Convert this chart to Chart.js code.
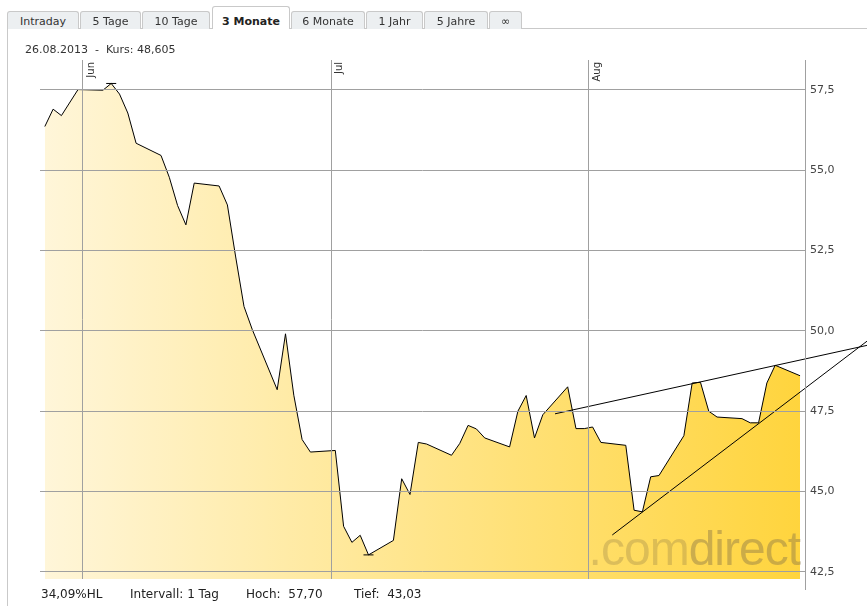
<!DOCTYPE html>
<html>
<head>
<meta charset="utf-8">
<script src="https://cdn.jsdelivr.net/npm/chart.js@4.4.0/dist/chart.umd.min.js"></script>
<style>
    html, body { margin: 0; padding: 0; background: #fff; }
    #wrap { position: relative; width: 867px; height: 606px; overflow: hidden; font-family: "DejaVu Sans", Verdana, sans-serif; color: #333; }
    #chart { position: absolute; left: 0; top: 0; }
    .tab { position: absolute; top: 11px; height: 18px; box-sizing: border-box; border: 1px solid #c9c9c9; border-bottom: none; border-radius: 3px 3px 0 0; background: #eceff1; font-size: 11px; line-height: 20px; text-align: center; color: #333; z-index: 2; }
    .tab.active { top: 6px; height: 23px; padding-top: 5px; background: #fff; font-weight: bold; color: #222; z-index: 3; }
    #tabline { position: absolute; left: 7px; top: 28px; width: 860px; height: 1px; background: #c9c9c9; z-index: 1; }
    #frame { position: absolute; left: 7px; top: 28px; width: 1px; height: 578px; background: #c9c9c9; z-index: 1; }
    #kurs { position: absolute; left: 25px; top: 43px; font-size: 11px; line-height: 13px; white-space: pre; z-index: 2; }
    .stat { position: absolute; top: 587px; font-size: 12px; line-height: 14px; white-space: pre; z-index: 2; color: #222; }
</style>
</head>
<body>
<div id="wrap">
    <canvas id="chart" width="867" height="606"></canvas>
    <div id="tabline"></div>
    <div id="frame"></div>
    <div id="tabs"></div>
    <div id="kurs"></div>
    <div class="stat" id="hl" style="left:41px"></div>
    <div class="stat" id="intervall" style="left:130px"></div>
    <div class="stat" id="hoch" style="left:246px"></div>
    <div class="stat" id="tief" style="left:354px"></div>
</div>
<script>
// tabs
const tabNames = ['Intraday', '5 Tage', '10 Tage', '3 Monate', '6 Monate', '1 Jahr', '5 Jahre', '\u221e'];
const tabLefts = [7, 80, 142, 212, 291, 366, 424, 489];
const tabRights = [79, 141, 210, 290, 365, 423, 488, 522];
const activeTab = 3;

// daily closes, 3 months
const dates = [
    '2013-05-27', '2013-05-28', '2013-05-29', '2013-05-31',
    '2013-06-03', '2013-06-04', '2013-06-05', '2013-06-06', '2013-06-07',
    '2013-06-10', '2013-06-11', '2013-06-12', '2013-06-13', '2013-06-14',
    '2013-06-17', '2013-06-18', '2013-06-19', '2013-06-20', '2013-06-21',
    '2013-06-24', '2013-06-25', '2013-06-26', '2013-06-27', '2013-06-28',
    '2013-07-01', '2013-07-02', '2013-07-03', '2013-07-04', '2013-07-05',
    '2013-07-08', '2013-07-09', '2013-07-10', '2013-07-11', '2013-07-12',
    '2013-07-15', '2013-07-16', '2013-07-17', '2013-07-18', '2013-07-19',
    '2013-07-22', '2013-07-23', '2013-07-24', '2013-07-25', '2013-07-26',
    '2013-07-29', '2013-07-30', '2013-07-31', '2013-08-01', '2013-08-02',
    '2013-08-05', '2013-08-06', '2013-08-07', '2013-08-08', '2013-08-09',
    '2013-08-12', '2013-08-13', '2013-08-14', '2013-08-15', '2013-08-16',
    '2013-08-19', '2013-08-20', '2013-08-21', '2013-08-22', '2013-08-23',
    '2013-08-26'
];
const prices = [
    56.36, 56.90, 56.70, 57.51,
    57.49, 57.70, 57.37, 56.78, 55.84,
    55.46, 54.78, 53.90, 53.30, 54.60,
    54.51, 53.92, 52.30, 50.76, 50.04,
    48.17, 49.91, 48.00, 46.62, 46.23,
    46.28, 43.92, 43.42, 43.64, 43.03,
    43.48, 45.40, 44.91, 46.53, 46.48,
    46.13, 46.50, 47.06, 46.95, 46.67,
    46.39, 47.50, 47.99, 46.67, 47.39,
    48.26, 46.96, 46.96, 47.01, 46.53,
    46.44, 44.42, 44.37, 45.46, 45.50,
    46.74, 48.38, 48.40, 47.50, 47.32,
    47.27, 47.14, 47.14, 48.38, 48.93,
    48.605
];
const closeTime = '11:00';

// drawn trend lines
const resistDates = ['2013-07-27 22:20', '2013-09-03 12:30'];
const resistValues = [47.42, 49.55];
const supportDates = ['2013-08-03 19:55', '2013-09-03 12:30'];
const supportValues = [43.65, 49.68];

const monthStarts = ['2013-06-01', '2013-07-01', '2013-08-01'];
const monthLabels = ['Jun', 'Jul', 'Aug'];
const yTicks = [42.5, 45, 47.5, 50, 52.5, 55, 57.5];
const axisStart = '2013-05-26 21:05';
const axisEnd = '2013-08-27 01:15';
const yMin = 42.28;
const yMax = 58.43;

// days since 2013-06-01
function dayNum(s) {
    let p = s.split(/[- :]/).map(Number);
    let t = Date.UTC(p[0], p[1] - 1, p[2], p[3] || 0, p[4] || 0);
    return (t - Date.UTC(2013, 5, 1)) / 86400000;
}
function deNum(v, d) { return v.toFixed(d).replace('.', ','); }

// tabs + texts
let tabsDiv = document.getElementById('tabs');
tabNames.forEach((name, i) => {
    let t = document.createElement('div');
    t.className = 'tab' + (i === activeTab ? ' active' : '');
    t.style.left = tabLefts[i] + 'px';
    t.style.width = (tabRights[i] - tabLefts[i]) + 'px';
    t.textContent = name;
    tabsDiv.appendChild(t);
});

const hi = Math.max(...prices);
const lo = Math.min(...prices);
const last = prices[prices.length - 1];
const lastDate = dates[dates.length - 1].split('-').reverse().join('.');
document.getElementById('kurs').textContent = lastDate + '  -  Kurs: ' + deNum(last, 3);
document.getElementById('hl').textContent = deNum((hi / lo - 1) * 100, 2) + '%HL';
document.getElementById('intervall').textContent = 'Intervall: 1 Tag';
document.getElementById('hoch').textContent = 'Hoch:  ' + deNum(hi, 2);
document.getElementById('tief').textContent = 'Tief:  ' + deNum(lo, 2);

const points = dates.map((d, i) => ({ x: dayNum(d + ' ' + closeTime), y: prices[i] }));
const hiIdx = prices.indexOf(hi);
const loIdx = prices.indexOf(lo);

const extras = {
    id: 'extras',
    afterDatasetDraw(chart, args) {
        if (args.index !== 0) return;
        // watermark
        const ca = chart.chartArea;
        const ctx = chart.ctx;
        ctx.save();
        ctx.font = '48px "Liberation Sans", Arial, sans-serif';
        ctx.letterSpacing = '-1px';
        ctx.textAlign = 'right';
        ctx.textBaseline = 'alphabetic';
        let wx = ca.right - 5;
        let wy = ca.bottom - 14;
        ctx.fillStyle = 'rgba(140,120,70,0.45)';
        ctx.fillText('direct', wx, wy);
        let w = ctx.measureText('direct').width;
        ctx.fillStyle = 'rgba(140,120,70,0.30)';
        ctx.fillText('.com', wx - w, wy);
        ctx.restore();
    },
    afterDraw(chart) {
        const ca = chart.chartArea;
        const ctx = chart.ctx;
        const xs = chart.scales.x;
        ctx.save();
        // right axis line
        ctx.strokeStyle = '#a0a0a0';
        ctx.lineWidth = 1;
        ctx.beginPath();
        ctx.moveTo(ca.right + 0.5, ca.top);
        ctx.lineTo(ca.right + 0.5, ca.bottom + 11);
        ctx.stroke();
        // month labels, rotated
        ctx.fillStyle = '#333';
        ctx.font = '10px "DejaVu Sans", Verdana, sans-serif';
        ctx.textAlign = 'right';
        ctx.textBaseline = 'top';
        monthStarts.forEach((m, i) => {
            let px = Math.round(xs.getPixelForValue(dayNum(m)));
            ctx.save();
            ctx.translate(px + 3, ca.top + 2);
            ctx.rotate(-Math.PI / 2);
            ctx.fillText(monthLabels[i], 0, 0);
            ctx.restore();
        });
        ctx.restore();
    }
};

new Chart(document.getElementById('chart'), {
    type: 'line',
    data: {
        datasets: [{
            data: points,
            order: 1,
            borderColor: '#000',
            borderWidth: 1,
            tension: 0,
            fill: 'start',
            backgroundColor: (c) => {
                const ca = c.chart.chartArea;
                if (!ca) return '#ffe79a';
                const g = c.chart.ctx.createLinearGradient(ca.left, 0, ca.right, 0);
                g.addColorStop(0, '#fff6da');
                g.addColorStop(1, '#ffd43c');
                return g;
            },
            pointStyle: 'line',
            pointRadius: (c) => (c.dataIndex === hiIdx || c.dataIndex === loIdx) ? 5 : 0,
            pointBorderColor: '#000',
            pointBorderWidth: 1
        }, {
            data: resistDates.map((d, i) => ({ x: dayNum(d), y: resistValues[i] })),
            order: 0,
            borderColor: '#000',
            borderWidth: 1,
            pointRadius: 0,
            fill: false,
            clip: false
        }, {
            data: supportDates.map((d, i) => ({ x: dayNum(d), y: supportValues[i] })),
            order: 0,
            borderColor: '#000',
            borderWidth: 1,
            pointRadius: 0,
            fill: false,
            clip: false
        }]
    },
    options: {
        responsive: false,
        animation: false,
        devicePixelRatio: 1,
        events: [],
        layout: { padding: { left: 40, top: 60, right: 0, bottom: 27 } },
        plugins: { legend: { display: false }, tooltip: { enabled: false } },
        scales: {
            x: {
                type: 'linear',
                min: dayNum(axisStart),
                max: dayNum(axisEnd),
                afterBuildTicks: (s) => { s.ticks = monthStarts.map(m => ({ value: dayNum(m) })); },
                afterFit: (s) => { s.height = 0; },
                ticks: { display: false },
                border: { display: false },
                grid: { color: '#a0a0a0', drawTicks: false, z: 1 }
            },
            y: {
                position: 'right',
                min: yMin,
                max: yMax,
                afterBuildTicks: (s) => { s.ticks = yTicks.map(v => ({ value: v })); },
                afterFit: (s) => { s.width = 62; },
                border: { display: false },
                grid: { color: '#a0a0a0', drawTicks: false, z: 1 },
                ticks: {
                    padding: 5,
                    color: '#444',
                    font: { family: '"DejaVu Sans", Verdana, sans-serif', size: 11 },
                    callback: (v) => deNum(v, 1)
                }
            }
        }
    },
    plugins: [extras]
});
</script>
</body>
</html>
